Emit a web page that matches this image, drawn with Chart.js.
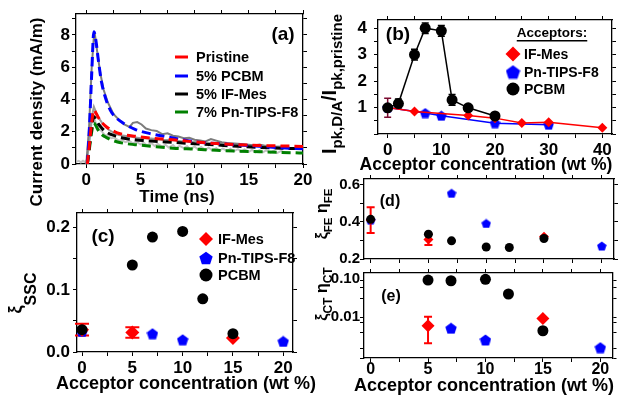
<!DOCTYPE html>
<html>
<head>
<script src="https://cdn.jsdelivr.net/npm/chart.js@4.4.0/dist/chart.umd.min.js"></script>
<style>
  body { margin: 0; background: #fff; }
  #wrap { position: relative; width: 619px; height: 397px; background: #fff; }
  #wrap canvas { position: absolute; left: 0; top: 0; }
</style>
</head>
<body>
<div id="wrap">
  <canvas id="panelA" width="619" height="397"></canvas>
  <canvas id="panelB" width="619" height="397"></canvas>
  <canvas id="panelC" width="619" height="397"></canvas>
  <canvas id="panelD" width="619" height="397"></canvas>
  <canvas id="panelE" width="619" height="397"></canvas>
</div>
<script>
// ---- (a) photocurrent transients: time (ns) vs current density (mA/m)
const fitTime     = [0.1, 0.3, 0.5, 0.7, 0.9, 1.1, 1.4, 1.7, 2.2, 2.8, 3.5, 4.5, 6, 8, 10, 12, 14, 16, 18, 20];
const fitPristine = [0, 1.3, 2.6, 3.35, 3.15, 2.9, 2.6, 2.4, 2.15, 1.95, 1.82, 1.72, 1.6, 1.5, 1.37, 1.27, 1.2, 1.15, 1.12, 1.09];
const fitPcbm     = [0, 2.4, 5.6, 8.2, 7.6, 6.5, 5.1, 4.25, 3.36, 2.84, 2.5, 2.15, 1.87, 1.62, 1.38, 1.27, 1.18, 1.1, 1.0, 0.94];
const fitIfMes    = [0, 1.2, 2.3, 2.95, 2.75, 2.5, 2.25, 2.05, 1.85, 1.72, 1.6, 1.5, 1.42, 1.34, 1.26, 1.18, 1.1, 1.03, 0.98, 0.95];
const fitPnTips   = [0, 1.0, 2.0, 2.55, 2.35, 2.1, 1.85, 1.7, 1.52, 1.38, 1.28, 1.2, 1.1, 0.98, 0.92, 0.85, 0.8, 0.76, 0.72, 0.68];

const rawPcbmTime = [0, 0.25, 0.5, 0.7, 0.8, 1.0, 1.3, 1.6, 2, 2.5, 3, 3.5, 4, 4.3, 4.7, 5.1, 5.5, 6, 6.5, 7, 7.5, 8, 8.5, 9, 9.5, 10, 10.5, 11, 11.5, 12, 12.5, 13, 14, 15, 15.5, 16, 16.5, 17, 17.5, 18, 18.5];
const rawPcbm     = [0, 2.2, 6.0, 7.9, 8.0, 7.0, 5.6, 4.6, 3.8, 3.1, 2.75, 2.45, 2.3, 2.55, 2.6, 2.45, 2.2, 2.1, 2.05, 1.85, 1.9, 1.75, 1.7, 1.6, 1.62, 1.5, 1.45, 1.4, 1.55, 1.45, 1.35, 1.3, 1.25, 1.2, 1.15, 1.2, 1.1, 1.1, 1.05, 1.0, 1.0];
const rawPristineTime = [0, 0.3, 0.5, 0.7, 0.9, 1.2, 1.5, 2, 2.5, 3, 4, 5, 6, 7, 8, 9, 10, 11, 12, 13, 14, 15, 16, 17, 18, 18.5];
const rawPristine     = [0, 1.5, 2.9, 3.55, 3.2, 2.8, 2.5, 2.15, 1.95, 1.8, 1.7, 1.6, 1.58, 1.5, 1.48, 1.4, 1.38, 1.3, 1.32, 1.25, 1.22, 1.15, 1.18, 1.1, 1.08, 1.05];
const rawBlendTime = [-0.9, -0.7, -0.5, -0.3, -0.1, 0.1, 0.3, 0.5, 0.7, 0.9, 1.1, 1.4, 1.7, 2, 2.3, 2.6, 3, 3.3, 3.6, 4, 4.3, 4.6, 5, 5.3, 5.6, 6, 6.3, 6.6, 7, 7.3, 7.6, 8, 8.3, 8.6, 9, 9.3, 9.6, 10, 10.3, 10.6, 11, 11.3, 11.6, 12, 12.3, 12.6, 13, 13.3, 13.6, 14, 14.3, 14.6, 15, 15.3, 15.6, 16, 16.3, 16.6, 17, 17.3, 17.6, 18, 18.3];
const rawBlend     = [0.15, 0.2, 0.1, 0.2, 0.12, 0.3, 1.6, 2.6, 2.9, 2.5, 2.2, 2.05, 1.8, 1.75, 1.6, 1.62, 1.45, 1.5, 1.35, 1.42, 1.28, 1.38, 1.22, 1.32, 1.15, 1.3, 1.12, 1.25, 1.08, 1.2, 1.02, 1.18, 1.0, 1.12, 0.98, 1.1, 0.92, 1.08, 0.9, 1.05, 0.86, 1.02, 0.85, 0.98, 0.82, 0.96, 0.8, 0.95, 0.78, 0.92, 0.76, 0.9, 0.75, 0.88, 0.72, 0.86, 0.72, 0.84, 0.7, 0.83, 0.68, 0.82, 0.7];

// ---- (b) normalised peak current vs acceptor concentration (wt %)
const pcbmPeakConc  = [0, 2, 5, 7, 10, 12, 15, 20];
const pcbmPeak      = [0.99, 1.15, 3.0, 4.0, 3.9, 1.29, 0.99, 0.68];
const pcbmPeakErr   = [0.36, 0.17, 0.2, 0.2, 0.2, 0.2, 0.12, 0.08];
const ifMesPeakConc = [0, 5, 15, 20, 25, 30, 40];
const ifMesPeak     = [1.0, 0.85, 0.7, 0.6, 0.42, 0.44, 0.24];
const pnTipsPeakConc = [0, 7, 10, 20, 30];
const pnTipsPeak     = [1.0, 0.79, 0.69, 0.41, 0.35];

// ---- (c), (d) share concentrations
const ifMesConc  = [0, 5, 15];
const pnTipsConc = [0, 7, 10, 20];
const pcbmConc   = [0, 5, 7, 10, 12, 15];
const ifMesSsc    = [0.036, 0.0315, 0.0225];
const ifMesSscErr = [0.0095, 0.0085, null];
const pnTipsSsc   = [0.033, 0.0294, 0.0197, 0.017];
const pcbmSsc     = [0.036, 0.14, 0.185, 0.194, 0.0856, 0.0294];
const ifMesFe     = [0.41, 0.305, 0.32];
const ifMesFeErr  = [0.07, 0.03, null];
const pnTipsFe    = [0.41, 0.555, 0.392, 0.27];
const pcbmFe      = [0.414, 0.334, 0.298, 0.265, 0.262, 0.311];

// ---- (e) log axis
const ifMesCtConc  = [5, 15];
const ifMesCt      = [0.0059, 0.0092];
const ifMesCtRange = [[0.00204, 0.0102], null];
const pnTipsCtConc = [7, 10, 20];
const pnTipsCt     = [0.00506, 0.00249, 0.00156];
const pcbmCtConc   = [5, 7, 10, 12, 15];
const pcbmCt       = [0.094, 0.090, 0.098, 0.0403, 0.00435];

const W = 619, H = 397;
const FONT = '"Liberation Sans", Arial, sans-serif';
const RED = '#ff0000', BLUE = '#0000ff', BLACK = '#000000', GREEN = '#008000';

Chart.defaults.font.family = FONT;
Chart.defaults.font.weight = 'bold';
Chart.defaults.color = '#000';

const pts = (xs, ys) => xs.map((x, i) => ({ x, y: ys[i] }));
const bars = (ys, err) => ys.map((v, i) => err[i] == null ? null : [v - err[i], v + err[i]]);
const near = (v, m) => Math.abs(v / m - Math.round(v / m)) < 1e-6;

function pentagon(size, color) {
  const c = document.createElement('canvas');
  c.width = c.height = size;
  const g = c.getContext('2d'), r = size / 2, top = 0.0955 * r;
  g.fillStyle = color;
  g.beginPath();
  for (let k = 0; k < 5; k++) {
    const a = -Math.PI / 2 + k * 2 * Math.PI / 5;
    g.lineTo(r + r * Math.cos(a), top + r + r * Math.sin(a));
  }
  g.closePath();
  g.fill();
  return c;
}

// rich text: parts are [text, size, baselineShift]
function drawParts(ctx, t) {
  ctx.save();
  ctx.translate(t.x, t.y);
  if (t.rot) ctx.rotate(t.rot * Math.PI / 180);
  ctx.fillStyle = '#000';
  ctx.textBaseline = 'alphabetic';
  ctx.textAlign = 'left';
  const parts = t.parts.map(([s, size, dy]) => {
    ctx.font = 'bold ' + size + 'px ' + FONT;
    return { s, size, dy: dy || 0, w: ctx.measureText(s).width };
  });
  const total = parts.reduce((a, p) => a + p.w, 0);
  let cx = t.align === 'left' ? 0 : -total / 2;
  const x0 = cx;
  parts.forEach(p => {
    ctx.font = 'bold ' + p.size + 'px ' + FONT;
    ctx.fillText(p.s, cx, p.dy);
    cx += p.w;
  });
  if (t.underline) ctx.fillRect(x0, 3, total, 1.5);
  ctx.restore();
}

const errorBars = {
  id: 'errorBars',
  beforeDatasetsDraw(chart) {
    const ctx = chart.ctx, xs = chart.scales.x, ys = chart.scales.y;
    chart.data.datasets.forEach(d => {
      if (!d.errorBars) return;
      d.data.forEach((p, i) => {
        const e = d.errorBars[i];
        if (!e) return;
        const px = xs.getPixelForValue(p.x), y1 = ys.getPixelForValue(e[0]), y2 = ys.getPixelForValue(e[1]);
        const c = d.errorCap;
        ctx.save();
        ctx.strokeStyle = Array.isArray(d.errorColor) ? d.errorColor[i] : d.errorColor;
        ctx.lineWidth = d.errorWidth || 1.5;
        ctx.beginPath();
        ctx.moveTo(px, y1); ctx.lineTo(px, y2);
        ctx.moveTo(px - c, y1); ctx.lineTo(px + c, y1);
        ctx.moveTo(px - c, y2); ctx.lineTo(px + c, y2);
        ctx.stroke();
        ctx.restore();
      });
    });
  }
};

const decor = {
  id: 'decor',
  afterDraw(chart, args, o) {
    const ctx = chart.ctx;
    (o.texts || []).forEach(t => drawParts(ctx, t));
    const L = o.legend;
    if (!L) return;
    chart.data.datasets.filter(d => d.label).forEach((d, i) => {
      const y = L.ys[i];
      ctx.save();
      if (L.dash) {
        ctx.strokeStyle = d.borderColor;
        ctx.lineWidth = 3;
        ctx.beginPath();
        ctx.moveTo(L.x - L.dash / 2, y);
        ctx.lineTo(L.x + L.dash / 2, y);
        ctx.stroke();
      } else {
        ctx.fillStyle = d.pointBackgroundColor;
        Chart.helpers.drawPoint(ctx, { pointStyle: d.legendStyle || d.pointStyle, radius: d.legendRadius, rotation: 0, borderWidth: 0 }, L.x, y);
      }
      ctx.restore();
      drawParts(ctx, { x: L.textX, y: y + L.size * 0.36, align: 'left', parts: [[d.label, L.size]] });
    });
  }
};
Chart.register(errorBars, decor);

// thick: fixed box size of the axis (labels are clipped to it)
function axis(pos, r, labels, thick) {
  return {
    type: r.type || 'linear',
    position: pos,
    min: r.min, max: r.max,
    afterFit: s => { if (s.isHorizontal()) s.height = thick; else s.width = thick; },
    border: { display: true, color: '#000', width: 1.3 },
    grid: { display: true, drawOnChartArea: false, drawTicks: true, tickLength: 4, color: '#000', lineWidth: 1 },
    ticks: {
      display: labels,
      stepSize: r.step,
      maxTicksLimit: r.step ? Math.ceil((r.max - r.min) / r.step) + 2 : 11,
      includeBounds: false, autoSkip: false, maxRotation: 0, minRotation: 0,
      padding: r.pad == null ? 2 : r.pad,
      color: '#000',
      font: { size: r.size || 17, weight: 'bold' },
      callback: r.fmt
    }
  };
}

function options(area, xr, yr, decorOpts) {
  return {
    responsive: false,
    animation: false,
    devicePixelRatio: 1,
    layout: { padding: { left: 0, top: area[1], right: W - area[2], bottom: 0 } },
    scales: {
      x: axis('bottom', xr, xr.labels !== false, H - area[3]),
      x2: axis('top', xr, false, 0),
      y: axis('left', yr, true, area[0]),
      y2: axis('right', yr, false, 0)
    },
    plugins: { legend: { display: false }, tooltip: { enabled: false }, decor: decorOpts }
  };
}

function fit(label, ys, color) {
  return { label, data: pts(fitTime, ys), showLine: true, borderColor: color, borderWidth: 3,
    borderDash: [9, 5], pointRadius: 0, cubicInterpolationMode: 'monotone' };
}
function raw(xs, ys, color) {
  return { data: pts(xs, ys), showLine: true, borderColor: color, borderWidth: 2, pointRadius: 0 };
}
function marks(label, xs, ys, color, style, radius, extra) {
  return Object.assign({ label, data: pts(xs, ys), showLine: false, pointStyle: style, pointRadius: radius,
    pointBackgroundColor: color, pointBorderColor: color, pointBorderWidth: 0,
    borderColor: color, backgroundColor: color, borderWidth: 1.5 }, extra || {});
}

const mult = m => v => near(v, m) ? String(Math.round(v)) : '';

// (a)
new Chart(document.getElementById('panelA'), {
  type: 'scatter',
  data: { datasets: [
    fit('Pristine', fitPristine, RED),
    fit('5% PCBM', fitPcbm, BLUE),
    fit('5% IF-Mes', fitIfMes, BLACK),
    fit('7% Pn-TIPS-F8', fitPnTips, GREEN),
    raw(rawPcbmTime, rawPcbm, '#7c7c7c'),
    raw(rawPristineTime, rawPristine, '#9a9a9a'),
    raw(rawBlendTime, rawBlend, '#c2c2c2')
  ] },
  options: options([76, 14, 303, 164],
    { min: -0.95, max: 20, step: 2.5, fmt: mult(5) },
    { min: 0, max: 9.3, step: 1, fmt: mult(2) },
    { texts: [
        { x: 42, y: 112, rot: -90, parts: [['Current density (mA/m)', 17]] },
        { x: 177, y: 202, parts: [['Time (ns)', 17]] },
        { x: 283, y: 40, parts: [['(a)', 19]] }
      ],
      legend: { dash: 13, x: 181.5, textX: 196, ys: [57, 76, 94, 112], size: 14.5 } })
});

// (b)
new Chart(document.getElementById('panelB'), {
  type: 'scatter',
  data: { datasets: [
    marks('IF-Mes', ifMesPeakConc, ifMesPeak, RED, 'rectRot', 5, { showLine: true, legendRadius: 7.5 }),
    marks('Pn-TIPS-F8', pnTipsPeakConc, pnTipsPeak, BLUE, pentagon(11, BLUE), 5, { showLine: true, legendStyle: pentagon(15, BLUE) }),
    marks('PCBM', pcbmPeakConc, pcbmPeak, BLACK, 'circle', 5.5, { showLine: true, order: -1, legendRadius: 6.5,
      errorBars: bars(pcbmPeak, pcbmPeakErr), errorCap: 3.5, errorWidth: 1.5,
      errorColor: ['#7a0a30', BLACK, BLACK, BLACK, BLACK, BLACK, BLACK, BLACK] })
  ] },
  options: options([378, 20, 612, 134],
    { min: -1.8, max: 41.8, step: 5, fmt: mult(10) },
    { min: 0, max: 4.31, step: 0.5, pad: 7, fmt: v => (near(v, 1) && v > 0) ? String(Math.round(v)) : '' },
    { texts: [
        { x: 336, y: 84, rot: -90, parts: [['I', 20], ['pk,D/A', 15, 5.5], ['/', 20], ['I', 20], ['pk,pristine', 15, 5.5]] },
        { x: 486, y: 170, parts: [['Acceptor concentration (wt %)', 17.5]] },
        { x: 398, y: 40, parts: [['(b)', 19]] },
        { x: 552, y: 37, underline: true, parts: [['Acceptors:', 13.5]] }
      ],
      legend: { x: 513, textX: 524, ys: [54, 72, 89], size: 14 } })
});

// (c)
new Chart(document.getElementById('panelC'), {
  type: 'scatter',
  data: { datasets: [
    marks('IF-Mes', ifMesConc, ifMesSsc, RED, 'rectRot', 7, { legendRadius: 7,
      errorBars: bars(ifMesSsc, ifMesSscErr), errorCap: 7, errorWidth: 2, errorColor: RED }),
    marks('Pn-TIPS-F8', pnTipsConc, pnTipsSsc, BLUE, pentagon(12, BLUE), 5, { legendStyle: pentagon(14, BLUE) }),
    marks('PCBM', pcbmConc, pcbmSsc, BLACK, 'circle', 5.5, { order: -1, legendRadius: 6.5 })
  ] },
  options: options([77, 213, 293, 352],
    { min: -0.5, max: 20.97, step: 2.5, fmt: mult(5) },
    { min: 0, max: 0.2237, step: 0.05, pad: 3, fmt: v => near(v, 0.1) ? v.toFixed(1) : '' },
    { texts: [
        { x: 21, y: 293, rot: -90, parts: [['ξ', 18], ['SSC', 16, 15]] },
        { x: 186, y: 389, parts: [['Acceptor concentration (wt %)', 18]] },
        { x: 103, y: 242, parts: [['(c)', 19]] }
      ],
      legend: { x: 206, textX: 218, ys: [239, 258, 275], size: 14.5 } })
});

// (d)
new Chart(document.getElementById('panelD'), {
  type: 'scatter',
  data: { datasets: [
    marks('IF-Mes', ifMesConc, ifMesFe, RED, 'rectRot', 5, {
      errorBars: bars(ifMesFe, ifMesFeErr), errorCap: 4, errorWidth: 2, errorColor: RED }),
    marks('Pn-TIPS-F8', pnTipsConc, pnTipsFe, BLUE, pentagon(10, BLUE), 5),
    marks('PCBM', pcbmConc, pcbmFe, BLACK, 'circle', 4.5, { order: -1 })
  ] },
  options: options([364, 179, 616, 259],
    { min: -0.575, max: 21.06, step: 2.5, labels: false },
    { min: 0.2, max: 0.632, step: 0.1, pad: 0, size: 15, fmt: v => near(v, 0.2) ? v.toFixed(1) : '' },
    { texts: [
        { x: 327, y: 214, rot: -90, parts: [['ξ', 16], ['FE', 11.5, 5], [' η', 16], ['FE', 11.5, 5]] },
        { x: 390, y: 206, parts: [['(d)', 16]] }
      ] })
});

// (e)
new Chart(document.getElementById('panelE'), {
  type: 'scatter',
  data: { datasets: [
    marks('IF-Mes', ifMesCtConc, ifMesCt, RED, 'rectRot', 6.5, {
      errorBars: ifMesCtRange, errorCap: 4, errorWidth: 2, errorColor: RED }),
    marks('Pn-TIPS-F8', pnTipsCtConc, pnTipsCt, BLUE, pentagon(12, BLUE), 5),
    marks('PCBM', pcbmCtConc, pcbmCt, BLACK, 'circle', 5.5, { order: -1 })
  ] },
  options: options([364, 273, 616, 358],
    { min: -0.575, max: 21.06, step: 2.5, pad: -2, size: 16, fmt: mult(5) },
    { type: 'logarithmic', min: 0.000834, max: 0.1439, pad: 0, size: 15,
      fmt: v => Math.abs(Math.log10(v) + 1) < 1e-6 ? '0.10' : (Math.abs(Math.log10(v) + 2) < 1e-6 ? '0.01' : '') },
    { texts: [
        { x: 327, y: 294, rot: -90, parts: [['ξ', 16], ['CT', 12, 5], [' η', 16], ['CT', 12, 5]] },
        { x: 484, y: 391, parts: [['Acceptor concentration (wt %)', 18]] },
        { x: 391, y: 301, parts: [['(e)', 16]] }
      ] })
});
</script>
</body>
</html>
